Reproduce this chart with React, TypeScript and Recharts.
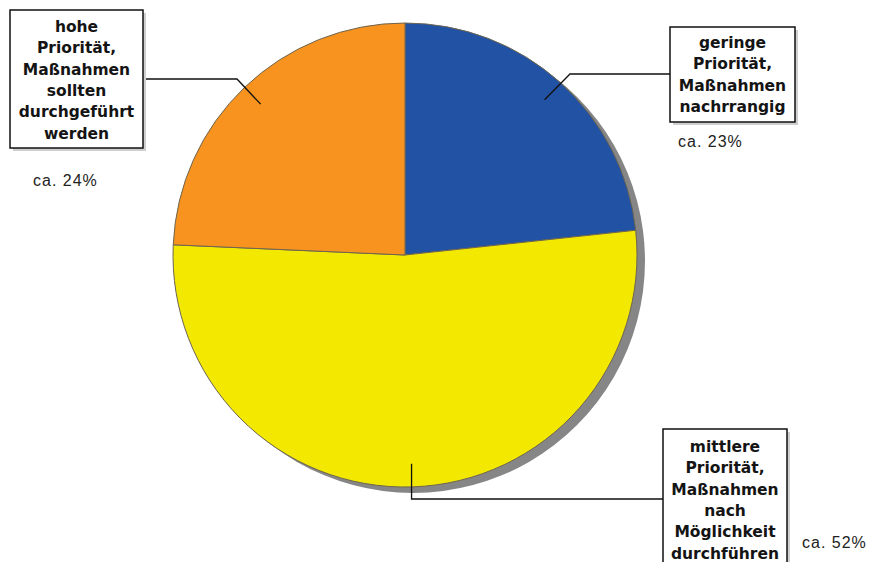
import React from "react";
import { Cell, Pie, PieChart } from "recharts";

// slices in drawing order, clockwise from 12 o'clock
const categories = ["geringe", "mittlere", "hohe"];
const shares = [23.3, 52.4, 24.3];
const percentLabels = ["ca. 23%", "ca. 52%", "ca. 24%"];
const boxLines = [
  ["geringe", "Priorität,", "Maßnahmen", "nachrrangig"],
  ["mittlere", "Priorität,", "Maßnahmen", "nach", "Möglichkeit", "durchführen"],
  ["hohe", "Priorität,", "Maßnahmen", "sollten", "durchgeführt", "werden"],
];
const sliceColors = ["#2152a3", "#f2e800", "#f7931e"];

const data = categories.map((name, i) => ({ name, value: shares[i] }));
const shadowData = [{ name: "shadow", value: 1 }];

// callout layout: box rect, where the leader line turns, text + percent placement
const calloutLayout = [
  { box: { x: 670, y: 27, w: 125, h: 95 }, elbow: { x: 570, y: 74 }, end: { x: 670, y: 74 }, firstBase: 48, pct: { x: 678, y: 147 } },
  { box: { x: 663, y: 429, w: 124, h: 150 }, elbow: { y: 499 }, end: { x: 663, y: 499 }, firstBase: 452, pct: { x: 802, y: 548 } },
  { box: { x: 10, y: 10, w: 133, h: 138 }, elbow: { x: 237, y: 79 }, end: { x: 143, y: 79 }, firstBase: 32, pct: { x: 33, y: 186 } },
];

const RAD = Math.PI / 180;

const renderCallout = (props: any) => {
  const { cx, cy, midAngle, outerRadius, index } = props;
  const r = outerRadius * 0.9;
  const sx = cx + r * Math.cos(-midAngle * RAD);
  const sy = cy + r * Math.sin(-midAngle * RAD);
  const c = calloutLayout[index];
  const ex = c.elbow.x ?? sx;
  const ey = c.elbow.y;
  const lines = boxLines[index];
  return (
    <g key={`callout-${index}`}>
      <polyline
        points={`${sx},${sy} ${ex},${ey} ${c.end.x},${c.end.y}`}
        fill="none"
        stroke="#111"
        strokeWidth={1.3}
      />
      <rect x={c.box.x + 3} y={c.box.y + 3} width={c.box.w} height={c.box.h} fill="#cfcfcf" />
      <rect x={c.box.x} y={c.box.y} width={c.box.w} height={c.box.h} fill="#fff" stroke="#111" strokeWidth={1.5} />
      <text
        textAnchor="middle"
        fontFamily="DejaVu Sans, sans-serif"
        fontWeight="bold"
        fontSize={15.5}
        fill="#141414"
      >
        {lines.map((t, i) => (
          <tspan key={i} x={c.box.x + c.box.w / 2} y={c.firstBase + i * 21.3}>
            {t}
          </tspan>
        ))}
      </text>
      <text
        x={c.pct.x}
        y={c.pct.y}
        fontFamily="Liberation Sans, Arial, sans-serif"
        fontSize={16}
        letterSpacing={1}
        fill="#222"
      >
        {percentLabels[index]}
      </text>
    </g>
  );
};

export default function App() {
  return (
    <div style={{ position: "absolute", left: 0, top: 0 }}>
      <PieChart width={872} height={562} margin={{ top: 0, right: 0, bottom: 0, left: 0 }}>
        <Pie
          data={shadowData}
          dataKey="value"
          cx={413}
          cy={261}
          outerRadius={232}
          fill="#868686"
          stroke="none"
          isAnimationActive={false}
        />
        <Pie
          data={data}
          dataKey="value"
          cx={405}
          cy={255}
          outerRadius={232}
          startAngle={90}
          endAngle={-270}
          stroke="#6e6550"
          strokeWidth={1}
          label={renderCallout}
          labelLine={false}
          isAnimationActive={false}
        >
          {data.map((d, i) => (
            <Cell key={d.name} fill={sliceColors[i]} />
          ))}
        </Pie>
      </PieChart>
    </div>
  );
}
